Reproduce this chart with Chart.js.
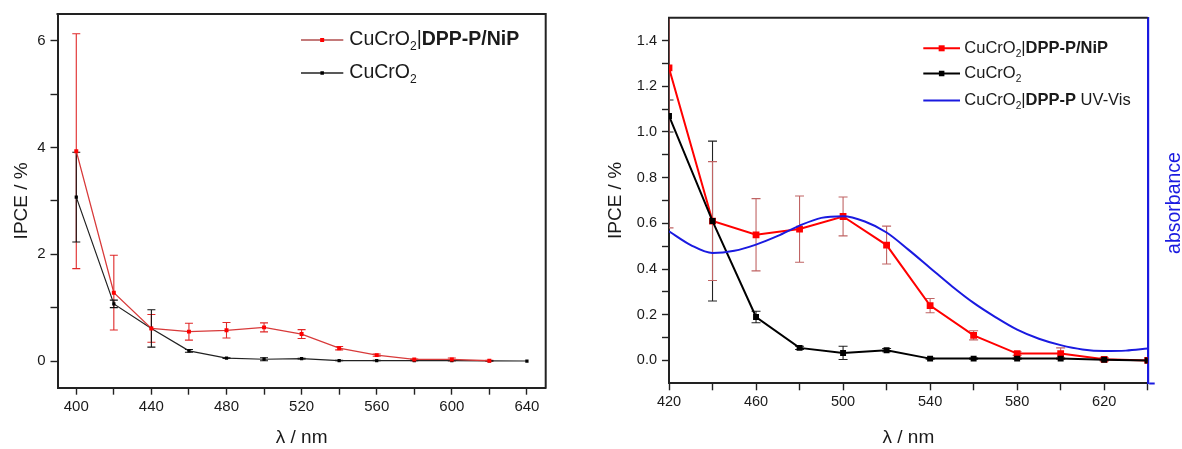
<!DOCTYPE html>
<html><head><meta charset="utf-8">
<script src="https://cdn.jsdelivr.net/npm/chart.js@4/dist/chart.umd.min.js"></script>
<style>
html,body{margin:0;padding:0;background:#fff;}
#wrap{position:relative;width:1182px;height:449px;overflow:hidden;}
.box{position:absolute;top:0;height:449px;}
</style></head><body>
<div id="wrap">
  <div class="box" style="left:0;width:580px;"><canvas id="c1"></canvas></div>
  <div class="box" style="left:580px;width:602px;"><canvas id="c2"></canvas></div>
</div>
<script>
// ---------------- data ----------------
const wavelengths = [400, 420, 440, 460, 480, 500, 520, 540, 560, 580, 600, 620, 640];
const ipceDppNip  = [3.93, 1.28, 0.61, 0.55, 0.575, 0.63, 0.505, 0.24, 0.11, 0.03, 0.03, 0.005, 0.0];
const errDppNip   = [2.2, 0.7, 0.26, 0.158, 0.145, 0.085, 0.083, 0.031, 0.02, 0.008, 0.025, 0.008, 0.0];
const ipceBare    = [3.07, 1.07, 0.61, 0.19, 0.055, 0.033, 0.045, 0.008, 0.008, 0.008, 0.008, 0.003, 0.0];
const errBare     = [0.84, 0.07, 0.35, 0.025, 0.007, 0.029, 0.007, 0.003, 0.003, 0.003, 0.003, 0.003, 0.0];
const uvvisWavelengths = [420, 430, 440, 450, 460, 470, 480, 490, 500, 510, 520, 530, 540, 550, 560, 570, 580, 590, 600, 610, 620, 630, 640];
const uvvisAbsorbance  = [0.565, 0.505, 0.47, 0.48, 0.507, 0.545, 0.59, 0.624, 0.631, 0.608, 0.56, 0.485, 0.405, 0.325, 0.252, 0.19, 0.135, 0.095, 0.067, 0.048, 0.041, 0.043, 0.052];

const leftXTicks  = [400, 420, 440, 460, 480, 500, 520, 540, 560, 580, 600, 620, 640];
const leftXLabels = [400, 440, 480, 520, 560, 600, 640];
const leftYTicks  = [0, 1, 2, 3, 4, 5, 6];
const leftYLabels = [0, 2, 4, 6];
const rightXTicks  = [420, 440, 460, 480, 500, 520, 540, 560, 580, 600, 620, 640];
const rightXLabels = [420, 460, 500, 540, 580, 620];
const rightYTicks  = [0, 0.1, 0.2, 0.3, 0.4, 0.5, 0.6, 0.7, 0.8, 0.9, 1.0, 1.1, 1.2, 1.3, 1.4];
const rightYLabels = [0, 0.2, 0.4, 0.6, 0.8, 1.0, 1.2, 1.4];

const nameDppNip = [{t:'CuCrO'},{t:'2',sub:true},{t:'|'},{t:'DPP-P/NiP',bold:true}];
const nameBare   = [{t:'CuCrO'},{t:'2',sub:true}];
const nameUvVis  = [{t:'CuCrO'},{t:'2',sub:true},{t:'|'},{t:'DPP-P',bold:true},{t:' UV-Vis'}];

// ---------------- helpers ----------------
const FONT = '"Liberation Sans", Arial, Helvetica, sans-serif';
const AXIS = '#222';
const BLUE = '#1a1ae0';

function pts(xs, ys) { return xs.map((x, i) => ({x: x, y: ys[i]})); }
function near(list, v) { return list.some(l => Math.abs(l - v) < 1e-6); }

function richText(ctx, x, y, parts, size, color) {
  ctx.save();
  ctx.fillStyle = color; ctx.textBaseline = 'middle'; ctx.textAlign = 'left';
  let cx = x;
  for (const p of parts) {
    const fs = p.sub ? size * 0.62 : size;
    ctx.font = (p.bold ? 'bold ' : '') + fs + 'px ' + FONT;
    ctx.fillText(p.t, cx, y + (p.sub ? size * 0.36 : 0));
    cx += ctx.measureText(p.t).width;
  }
  ctx.restore();
}

const errorBarPlugin = {
  id: 'errbars',
  beforeDatasetsDraw(chart) {
    const ctx = chart.ctx, ca = chart.chartArea;
    ctx.save();
    ctx.beginPath(); ctx.rect(ca.left, ca.top, ca.right - ca.left, ca.bottom - ca.top); ctx.clip();
    chart.data.datasets.forEach((ds, di) => {
      if (!ds.errors) return;
      const xs = chart.scales[ds.xAxisID || 'x'], ys = chart.scales[ds.yAxisID || 'y'];
      ctx.strokeStyle = ds.errColor; ctx.lineWidth = 1.1;
      ds.data.forEach((p, i) => {
        const e = ds.errors[i];
        if (!e) return;
        const px = xs.getPixelForValue(p.x);
        const y1 = ys.getPixelForValue(p.y + e), y2 = ys.getPixelForValue(p.y - e);
        const c = ds.capHalf;
        ctx.beginPath();
        ctx.moveTo(px, y1); ctx.lineTo(px, y2);
        ctx.moveTo(px - c, y1); ctx.lineTo(px + c, y1);
        ctx.moveTo(px - c, y2); ctx.lineTo(px + c, y2);
        ctx.stroke();
      });
    });
    ctx.restore();
  }
};

const overlayPlugin = {
  id: 'overlay',
  afterDraw(chart, args, opts) {
    const ctx = chart.ctx, ca = chart.chartArea;
    ctx.save();
    ctx.strokeStyle = AXIS; ctx.lineWidth = 2;
    ctx.beginPath();
    ctx.moveTo(ca.left - 1, ca.top); ctx.lineTo(ca.right, ca.top);
    if (opts.frameRight) { ctx.lineTo(ca.right, ca.bottom + 1); }
    ctx.stroke();
    (opts.legend || []).forEach(it => {
      ctx.strokeStyle = it.lineColor; ctx.lineWidth = it.lineWidth;
      ctx.beginPath(); ctx.moveTo(opts.lx0, it.y); ctx.lineTo(opts.lx1, it.y); ctx.stroke();
      if (it.marker) {
        const m = it.marker, mx = (opts.lx0 + opts.lx1) / 2;
        ctx.fillStyle = it.markerColor;
        ctx.fillRect(mx - m / 2, it.y - m / 2, m, m);
      }
      richText(ctx, opts.tx, it.y, it.parts, opts.fontSize, '#1a1a1a');
    });
    if (opts.rightTitle) {
      const r = opts.rightTitle;
      ctx.translate(r.x, r.y); ctx.rotate(-Math.PI / 2);
      ctx.fillStyle = r.color; ctx.font = r.size + 'px ' + FONT;
      ctx.textAlign = 'center'; ctx.textBaseline = 'middle';
      ctx.fillText(r.text, 0, 0);
    }
    ctx.restore();
  }
};

function axisCommon(fontSize) {
  return {
    grid: {drawOnChartArea: false, drawTicks: true, tickLength: 7, tickWidth: 1.4, tickColor: AXIS},
    border: {display: true, color: AXIS, width: 2},
    ticks: {font: {family: FONT, size: fontSize}, color: '#1a1a1a', autoSkip: false, maxRotation: 0}
  };
}

// ---------------- left chart ----------------
const lx = axisCommon(15), ly = axisCommon(15);
new Chart(document.getElementById('c1'), {
  type: 'line',
  data: {datasets: [
    {label: 'CuCrO2|DPP-P/NiP', data: pts(wavelengths.slice(0, 12), ipceDppNip), errors: errDppNip.slice(0, 12),
     errColor: '#e02828', capHalf: 4, borderColor: '#d83a3a', backgroundColor: '#ff0000', borderWidth: 1.3,
     pointStyle: 'rect', pointRadius: 2.8, pointBorderWidth: 0, tension: 0},
    {label: 'CuCrO2', data: pts(wavelengths, ipceBare), errors: errBare,
     errColor: '#111', capHalf: 4, borderColor: '#222', backgroundColor: '#000', borderWidth: 1.2,
     pointStyle: 'rect', pointRadius: 2.3, pointBorderWidth: 0, tension: 0}
  ]},
  options: {
    responsive: true, maintainAspectRatio: false, animation: false,
    layout: {padding: {top: 14, right: 34.3, left: 0, bottom: 0}},
    plugins: {legend: {display: false}, tooltip: {enabled: false},
      overlay: {frameRight: true, lx0: 301, lx1: 343.3, tx: 349.3, fontSize: 19.5, legend: [
        {parts: nameDppNip, y: 40, lineColor: '#c47a7a', lineWidth: 2, marker: 4, markerColor: '#ff0000'},
        {parts: nameBare, y: 73, lineColor: '#222', lineWidth: 1.3, marker: 3.5, markerColor: '#000'}
      ]}},
    scales: {
      x: Object.assign(lx, {type: 'linear', min: 390, max: 650,
        afterBuildTicks: s => { s.ticks = leftXTicks.map(v => ({value: v})); },
        afterFit: s => { s.height = 61.3; },
        ticks: Object.assign(lx.ticks, {padding: 3, callback: v => near(leftXLabels, v) ? String(v) : ''}),
        title: {display: true, text: 'λ / nm', color: '#1a1a1a', font: {family: FONT, size: 19}, padding: {top: 0, bottom: 0}}}),
      y: Object.assign(ly, {type: 'linear', min: -0.5, max: 6.5,
        afterBuildTicks: s => { s.ticks = leftYTicks.map(v => ({value: v})); },
        afterFit: s => { s.width = 57.5; },
        ticks: Object.assign(ly.ticks, {padding: 5, callback: v => near(leftYLabels, v) ? String(v) : ''}),
        title: {display: true, text: 'IPCE / %', color: '#1a1a1a', font: {family: FONT, size: 19}, padding: {top: 10, bottom: 0}}})
    }
  },
  plugins: [errorBarPlugin, overlayPlugin]
});

// ---------------- right chart ----------------
const rx = axisCommon(14.5), ry = axisCommon(14.5);
new Chart(document.getElementById('c2'), {
  type: 'line',
  data: {datasets: [
    {label: 'CuCrO2|DPP-P UV-Vis', data: pts(uvvisWavelengths, uvvisAbsorbance), yAxisID: 'y2',
     borderColor: BLUE, borderWidth: 2, pointRadius: 0, cubicInterpolationMode: 'monotone'},
    {label: 'CuCrO2', data: pts(wavelengths.slice(1), ipceBare.slice(1)), errors: errBare.slice(1),
     errColor: '#222', capHalf: 4.5, borderColor: '#000', backgroundColor: '#000', borderWidth: 2,
     pointStyle: 'rect', pointRadius: 4.2, pointBorderWidth: 0, tension: 0},
    {label: 'CuCrO2|DPP-P/NiP', data: pts(wavelengths.slice(1), ipceDppNip.slice(1)), errors: errDppNip.slice(1),
     errColor: '#c06464', capHalf: 4.5, borderColor: '#ff0000', backgroundColor: '#ff0000', borderWidth: 2,
     pointStyle: 'rect', pointRadius: 4.8, pointBorderWidth: 0, tension: 0}
  ]},
  options: {
    responsive: true, maintainAspectRatio: false, animation: false,
    layout: {padding: {top: 17.7, right: 0, left: 0, bottom: 0}},
    plugins: {legend: {display: false}, tooltip: {enabled: false},
      overlay: {frameRight: false, lx0: 343.3, lx1: 380, tx: 384.3, fontSize: 16.5,
        rightTitle: {text: 'absorbance', x: 594.5, y: 203, size: 19.5, color: BLUE},
        legend: [
          {parts: nameDppNip, y: 48.3, lineColor: '#ff0000', lineWidth: 2, marker: 6, markerColor: '#ff0000'},
          {parts: nameBare, y: 73.5, lineColor: '#000', lineWidth: 2, marker: 5.5, markerColor: '#000'},
          {parts: nameUvVis, y: 100.5, lineColor: BLUE, lineWidth: 2}
        ]}},
    scales: {
      x: Object.assign(rx, {type: 'linear', min: 420, max: 640,
        afterBuildTicks: s => { s.ticks = rightXTicks.map(v => ({value: v})); },
        afterFit: s => { s.height = 65.7; },
        ticks: Object.assign(rx.ticks, {padding: 3, callback: v => near(rightXLabels, v) ? String(v) : ''}),
        title: {display: true, text: 'λ / nm', color: '#1a1a1a', font: {family: FONT, size: 19}, padding: {top: 0, bottom: 0}}}),
      y: Object.assign(ry, {type: 'linear', min: -0.1, max: 1.5,
        afterBuildTicks: s => { s.ticks = rightYTicks.map(v => ({value: v})); },
        afterFit: s => { s.width = 89; },
        ticks: Object.assign(ry.ticks, {padding: 5, callback: v => near(rightYLabels, v) ? v.toFixed(1) : ''}),
        title: {display: true, text: 'IPCE / %', color: '#1a1a1a', font: {family: FONT, size: 19}, padding: {top: 24.6, bottom: 0}}}),
      y2: {type: 'linear', position: 'right', min: -0.1, max: 1.5,
        afterBuildTicks: s => { s.ticks = [{value: -0.1}]; },
        afterFit: s => { s.width = 34.3; },
        grid: {drawOnChartArea: false, drawTicks: true, tickLength: 7, tickWidth: 2, tickColor: BLUE},
        border: {display: true, color: BLUE, width: 2.2},
        ticks: {display: true, callback: () => ''}}
    }
  },
  plugins: [errorBarPlugin, overlayPlugin]
});
</script>
</body></html>
